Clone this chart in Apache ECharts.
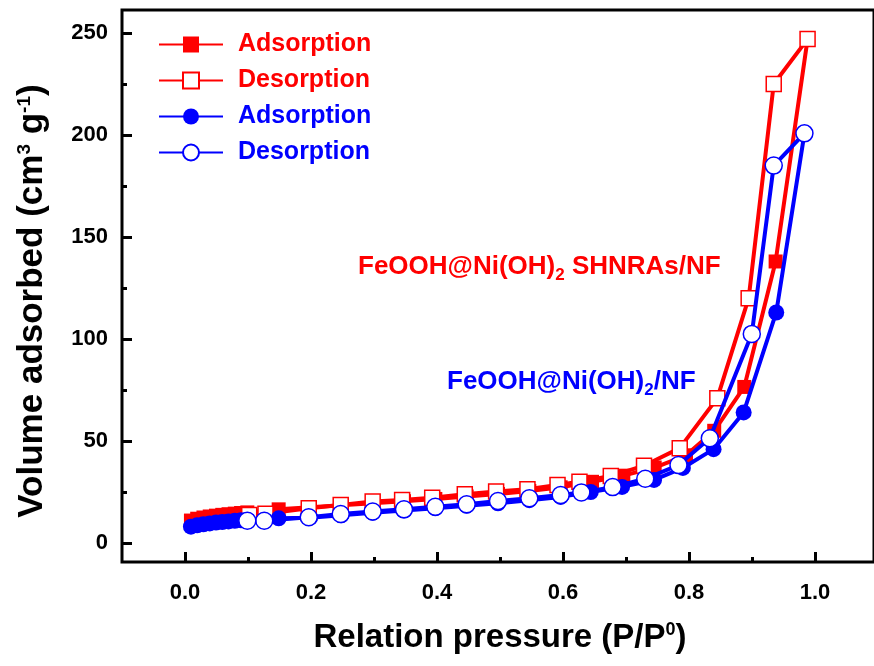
<!DOCTYPE html>
<html><head><meta charset="utf-8">
<script src="https://cdn.jsdelivr.net/npm/echarts@6/dist/echarts.min.js"></script>
<style>html,body{margin:0;padding:0;background:#fff}#c{width:874px;height:666px}</style>
</head><body><div id="c"></div>
<script>
// ---- data ----
const redAdsP = [0.01,0.02,0.03,0.04,0.05,0.06,0.07,0.08,0.09,0.10,0.15,0.20,0.25,0.30,0.35,0.40,0.45,0.50,0.55,0.60,0.65,0.70,0.75,0.80,0.845,0.893,0.943,0.994];
const redAdsV = [11.0,11.9,12.5,13.0,13.4,13.8,14.1,14.4,14.7,15.0,16.5,17.5,18.5,19.5,20.5,21.6,22.8,24.0,25.5,27.3,30.0,33.0,37.0,43.0,55.0,76.5,138.0,247.0];
const redDesP = [0.994,0.94,0.90,0.85,0.79,0.733,0.68,0.63,0.595,0.547,0.497,0.447,0.395,0.347,0.30,0.249,0.198,0.129,0.103];
const redDesV = [247.0,225.0,120.0,71.0,46.5,37.9,32.8,30.0,28.4,26.3,25.2,23.9,22.2,21.1,20.3,18.6,17.0,14.3,13.7];
const blueAdsP = [0.01,0.02,0.03,0.04,0.05,0.06,0.07,0.08,0.09,0.10,0.15,0.20,0.25,0.30,0.35,0.40,0.45,0.50,0.55,0.60,0.648,0.698,0.749,0.795,0.844,0.892,0.944,0.989];
const blueAdsV = [8.0,8.7,9.2,9.6,10.0,10.3,10.6,10.9,11.1,11.3,12.1,12.4,13.6,14.8,15.9,17.0,18.2,19.5,21.0,22.6,25.0,27.5,30.9,36.8,46.0,64.0,113.0,200.8];
const blueDesP = [0.989,0.94,0.905,0.838,0.788,0.735,0.683,0.633,0.60,0.55,0.50,0.45,0.40,0.35,0.30,0.249,0.198,0.127,0.100];
const blueDesV = [200.8,185.0,102.5,51.3,38.2,31.5,27.4,24.8,23.5,21.9,20.6,19.0,17.8,16.5,15.4,14.2,12.6,10.9,10.9];
const xTicks = [0.0,0.2,0.4,0.6,0.8,1.0];
const yTicks = [0,50,100,150,200,250];
const seriesNames = ['SHNRAs Adsorption','SHNRAs Desorption','NF Adsorption','NF Desorption'];
const legendLabels = ['Adsorption','Desorption','Adsorption','Desorption'];

const FONT = '"Liberation Sans", Arial, sans-serif';
const RED = '#ff0000', BLUE = '#0000ff';
const zip = (a,b) => a.map((v,i)=>[v,b[i]]);

const chart = echarts.init(document.getElementById('c'), null, {renderer:'canvas'});

function mkSeries(name, p, v, color, symbol, size, filled, z) {
  return {
    name, type:'line', xAxisIndex:0, yAxisIndex:0, data: zip(p,v),
    symbol, symbolSize:size, showAllSymbol:true, z,
    lineStyle:{color, width:4},
    itemStyle: filled ? {color, borderColor:color, borderWidth:0}
                      : {color:'#ffffff', borderColor:color, borderWidth:1.5},
    emphasis:{disabled:true}, animation:false
  };
}

const option = {
  animation:false,
  backgroundColor:'#ffffff',
  grid:[
    {left:122, top:10, width:756, height:552, show:true, borderColor:'#000', borderWidth:3, backgroundColor:'transparent'},
    {left:122, top:33, width:756, height:510},
    {left:185, top:10, width:630, height:552}
  ],
  xAxis:[
    {gridIndex:0, type:'value', min:-0.1, max:1.1, show:false},
    {gridIndex:1, type:'value', min:0, max:1, show:false},
    {gridIndex:2, type:'value', min:xTicks[0], max:xTicks[xTicks.length-1], interval:xTicks[1]-xTicks[0],
     axisLine:{show:false}, splitLine:{show:false},
     axisTick:{show:true, inside:true, length:10, lineStyle:{color:'#000', width:3}},
     minorTick:{show:true, splitNumber:2, length:5, lineStyle:{color:'#000', width:3}},
     axisLabel:{margin:20, color:'#000', fontSize:22, fontWeight:'bold', fontFamily:FONT, formatter:v=>v.toFixed(1)},
     name:'{t|Relation pressure (P/P}{s|0}{t|)}', nameLocation:'middle', nameGap:59,
     nameTextStyle:{color:'#000', rich:{
       t:{fontSize:33, fontWeight:'bold', fontFamily:FONT, color:'#000'},
       s:{fontSize:18, fontWeight:'bold', fontFamily:FONT, color:'#000', verticalAlign:'top'}}}}
  ],
  yAxis:[
    {gridIndex:0, type:'value', min:-19/2.04, max:250+23/2.04, show:false},
    {gridIndex:1, type:'value', min:yTicks[0], max:yTicks[yTicks.length-1], interval:yTicks[1]-yTicks[0],
     axisLine:{show:false}, splitLine:{show:false},
     axisTick:{show:true, inside:true, length:10, lineStyle:{color:'#000', width:3}},
     minorTick:{show:true, splitNumber:2, length:5, lineStyle:{color:'#000', width:3}},
     axisLabel:{margin:14, color:'#000', fontSize:22, fontWeight:'bold', fontFamily:FONT},
     name:'{t|Volume adsorbed (cm}{s|3}{t| g}{s|-1}{t|)}', nameLocation:'middle', nameRotate:90, nameGap:72,
     nameTextStyle:{color:'#000', padding:[0,26,0,0], rich:{
       t:{fontSize:35, fontWeight:'bold', fontFamily:FONT, color:'#000'},
       s:{fontSize:19, fontWeight:'bold', fontFamily:FONT, color:'#000', verticalAlign:'top'}}}},
    {gridIndex:2, type:'value', min:0, max:1, show:false}
  ],
  legend:{
    orient:'vertical', left:158, top:32, padding:0, itemWidth:64, itemHeight:20, itemGap:11,
    data: seriesNames.map((n,i)=>({name:n, textStyle:{color: i<2?RED:BLUE}})),
    formatter: n => legendLabels[seriesNames.indexOf(n)],
    textStyle:{fontSize:25, fontWeight:'bold', fontFamily:FONT, lineHeight:25, padding:[0,0,0,10]},
    selectedMode:false
  },
  graphic:[
    {type:'text', left:358, top:254, z:100, style:{
      text:'{a|FeOOH@Ni(OH)}{s|2}{a| SHNRAs/NF}',
      rich:{a:{fontSize:26, fontWeight:'bold', fontFamily:FONT, fill:RED, lineHeight:33},
            s:{fontSize:17, fontWeight:'bold', fontFamily:FONT, fill:RED, verticalAlign:'bottom'}}}},
    {type:'text', left:447, top:369, z:100, style:{
      text:'{a|FeOOH@Ni(OH)}{s|2}{a|/NF}',
      rich:{a:{fontSize:26, fontWeight:'bold', fontFamily:FONT, fill:BLUE, lineHeight:33},
            s:{fontSize:17, fontWeight:'bold', fontFamily:FONT, fill:BLUE, verticalAlign:'bottom'}}}}
  ],
  series:[
    mkSeries(seriesNames[0], redAdsP, redAdsV, RED, 'rect', 14, true, 2),
    mkSeries(seriesNames[1], redDesP, redDesV, RED, 'rect', 15, false, 3),
    mkSeries(seriesNames[2], blueAdsP, blueAdsV, BLUE, 'circle', 16, true, 4),
    mkSeries(seriesNames[3], blueDesP, blueDesV, BLUE, 'circle', 17, false, 5)
  ]
};
chart.setOption(option);
</script>
</body></html>
